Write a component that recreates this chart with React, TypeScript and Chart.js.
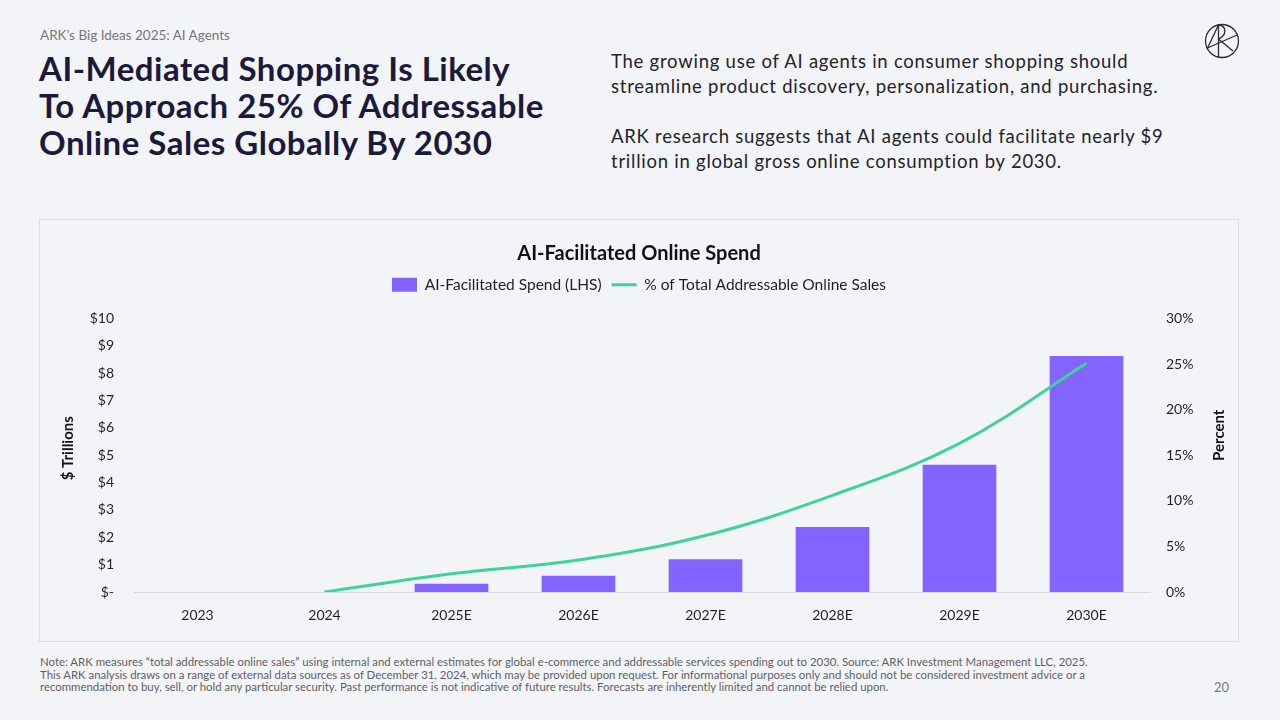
import React, { useEffect, useRef } from "react";
import { Chart, registerables } from "chart.js";

Chart.register(...registerables);

const categories = ["2023", "2024", "2025E", "2026E", "2027E", "2028E", "2029E", "2030E"];
const spendTrillions = [0, 0, 0.3, 0.59, 1.2, 2.38, 4.65, 8.63];
const shareOfSales = [null, 0, 2.0, 3.5, 6.2, 10.6, 16.3, 25.1];
const leftTicks = [0, 1, 2, 3, 4, 5, 6, 7, 8, 9, 10];
const rightTicks = [0, 5, 10, 15, 20, 25, 30];
const leftAxisTitle = "$ Trillions";
const rightAxisTitle = "Percent";

const FONT = "Lato, 'Open Sans', sans-serif";
const BG = "#f3f4f7";
const PURPLE = "#8364ff";
const GREEN = "#3fd39a";
const INK = "#1f1f2b";

const legendSpacer = {
  id: "legendSpacer",
  beforeInit(chart: any) {
    const legend = chart.legend;
    if (!legend) return;
    const origFit = legend.fit;
    legend.fit = function () {
      origFit.call(this);
      this.height += 16;
    };
  },
};

const axisTitles = {
  id: "axisTitles",
  afterDraw(chart: any) {
    const ctx = chart.ctx;
    const area = chart.chartArea;
    const mid = (area.top + area.bottom) / 2;
    ctx.save();
    ctx.fillStyle = "#111118";
    ctx.font = `bold 15px ${FONT}`;
    ctx.textAlign = "center";
    ctx.textBaseline = "middle";
    ctx.save();
    ctx.translate(28, mid - 7);
    ctx.rotate(-Math.PI / 2);
    ctx.fillText(leftAxisTitle, 0, 0);
    ctx.restore();
    ctx.save();
    ctx.translate(chart.width - 19, mid - 20);
    ctx.rotate(-Math.PI / 2);
    ctx.fillText(rightAxisTitle, 0, 0);
    ctx.restore();
    ctx.restore();
  },
};

function SpendChart() {
  const ref = useRef<HTMLCanvasElement | null>(null);
  useEffect(() => {
    if (!ref.current) return;
    const chart = new Chart(ref.current, {
      type: "bar",
      data: {
        labels: categories,
        datasets: [
          {
            type: "line",
            label: "% of Total Addressable Online Sales",
            data: shareOfSales as any,
            yAxisID: "y1",
            borderColor: GREEN,
            backgroundColor: GREEN,
            borderWidth: 3,
            pointRadius: 0,
            tension: 0.38,
            order: 0,
          } as any,
          {
            type: "bar",
            label: "AI-Facilitated Spend (LHS)",
            data: spendTrillions,
            yAxisID: "y",
            backgroundColor: PURPLE,
            borderWidth: 0,
            barPercentage: 0.58,
            categoryPercentage: 1,
            order: 1,
          } as any,
        ],
      },
      options: {
        animation: false,
        responsive: false,
        maintainAspectRatio: false,
        layout: { padding: 0 },
        plugins: {
          tooltip: { enabled: false },
          title: {
            display: true,
            text: "AI-Facilitated Online Spend",
            color: "#111118",
            font: { family: FONT, size: 20, weight: "bold" },
            padding: { top: 22, bottom: 1 },
          },
          legend: {
            display: true,
            position: "top",
            reverse: true,
            labels: {
              color: INK,
              font: { family: FONT, size: 15.5 },
              usePointStyle: true,
              pointStyleWidth: 25,
              boxHeight: 14,
              padding: 10,
              generateLabels(chart: any) {
                const items = Chart.defaults.plugins.legend.labels.generateLabels(chart);
                return items.map((it: any) => {
                  const ds = chart.data.datasets[it.datasetIndex];
                  if (ds.type === "line") {
                    return { ...it, pointStyle: "line", lineWidth: 3, strokeStyle: GREEN, fillStyle: GREEN };
                  }
                  return { ...it, pointStyle: "rect", lineWidth: 0, strokeStyle: PURPLE, fillStyle: PURPLE };
                });
              },
            },
          },
        },
        scales: {
          x: {
            grid: { display: false, drawTicks: false },
            border: { display: true, color: "#d8d9de", width: 1 },
            ticks: { color: INK, font: { family: FONT, size: 14 }, padding: 15 },
            afterFit(scale: any) {
              scale.height = 49;
            },
          },
          y: {
            position: "left",
            min: 0,
            max: 10,
            afterBuildTicks(scale: any) {
              scale.ticks = leftTicks.map((v) => ({ value: v }));
            },
            grid: { display: false, drawTicks: false },
            border: { display: false },
            ticks: {
              color: INK,
              font: { family: FONT, size: 14 },
              padding: 20,
              callback: (v: any) => (Number(v) === 0 ? "$-" : "$" + v),
            },
            afterFit(scale: any) {
              scale.width = 94;
            },
          },
          y1: {
            position: "right",
            min: 0,
            max: 30,
            afterBuildTicks(scale: any) {
              scale.ticks = rightTicks.map((v) => ({ value: v }));
            },
            grid: { display: false, drawTicks: false },
            border: { display: false },
            ticks: {
              color: INK,
              font: { family: FONT, size: 14 },
              padding: 16,
              callback: (v: any) => v + "%",
            },
            afterFit(scale: any) {
              scale.width = 88;
            },
          },
        },
      },
      plugins: [legendSpacer, axisTitles],
    });
    return () => chart.destroy();
  }, []);
  return <canvas ref={ref} width={1198} height={421} style={{ display: "block", width: 1198, height: 421 }} />;
}

function Logo() {
  return (
    <svg width="38" height="38" viewBox="0 0 38 38" style={{ position: "absolute", left: 1203, top: 22 }}>
      <g fill="none" stroke="#2a2a35" strokeWidth="1.3">
        <circle cx="19" cy="19" r="16.5" />
        <line x1="4.5" y1="26" x2="15.5" y2="3" />
        <line x1="15.5" y1="3" x2="15.5" y2="35.5" />
        <path d="M15.5 3 C 24 4, 24 13, 15.5 17" />
        <line x1="15.5" y1="17" x2="30" y2="29" />
        <line x1="4.5" y1="26" x2="34" y2="13" />
      </g>
    </svg>
  );
}

export default function App() {
  return (
    <div
      style={{
        position: "fixed",
        left: 0,
        top: 0,
        width: 1280,
        height: 720,
        background: BG,
        fontFamily: FONT,
        overflow: "hidden",
      }}
    >
      <div style={{ position: "absolute", left: 40, top: 27, fontSize: 13.5, color: "#76767e" }}>
        ARK’s Big Ideas 2025: AI Agents
      </div>
      <div
        style={{
          position: "absolute",
          left: 39,
          top: 50,
          fontSize: 33,
          lineHeight: "37px",
          fontWeight: 700,
          color: "#1c1a3c",
          letterSpacing: "0.5px",
          whiteSpace: "nowrap",
        }}
      >
        AI-Mediated Shopping Is Likely
        <br />
        To Approach 25% Of Addressable
        <br />
        Online Sales Globally By 2030
      </div>
      <div
        style={{
          position: "absolute",
          left: 611,
          top: 49,
          width: 640,
          fontSize: 18.5,
          lineHeight: "25px",
          color: "#23232d",
          letterSpacing: "0.75px",
          whiteSpace: "nowrap",
        }}
      >
        The growing use of AI agents in consumer shopping should
        <br />
        streamline product discovery, personalization, and purchasing.
        <br />
        <br />
        ARK research suggests that AI agents could facilitate nearly $9
        <br />
        trillion in global gross online consumption by 2030.
      </div>
      <Logo />
      <div
        style={{
          position: "absolute",
          left: 39,
          top: 219,
          width: 1198,
          height: 421,
          border: "1.5px solid #dcdde2",
          background: BG,
        }}
      >
        <SpendChart />
      </div>
      <div
        style={{
          position: "absolute",
          left: 40,
          top: 656,
          width: 1150,
          fontSize: 11.4,
          lineHeight: "12.5px",
          color: "#5f5f68",
          whiteSpace: "nowrap",
        }}
      >
        Note: ARK measures “total addressable online sales” using internal and external estimates for global e-commerce and addressable services spending out to 2030. Source: ARK Investment Management LLC, 2025.
        <br />
        This ARK analysis draws on a range of external data sources as of December 31, 2024, which may be provided upon request. For informational purposes only and should not be considered investment advice or a
        <br />
        recommendation to buy, sell, or hold any particular security. Past performance is not indicative of future results. Forecasts are inherently limited and cannot be relied upon.
      </div>
      <div style={{ position: "absolute", left: 1214, top: 679, fontSize: 13, color: "#76767e" }}>20</div>
    </div>
  );
}
